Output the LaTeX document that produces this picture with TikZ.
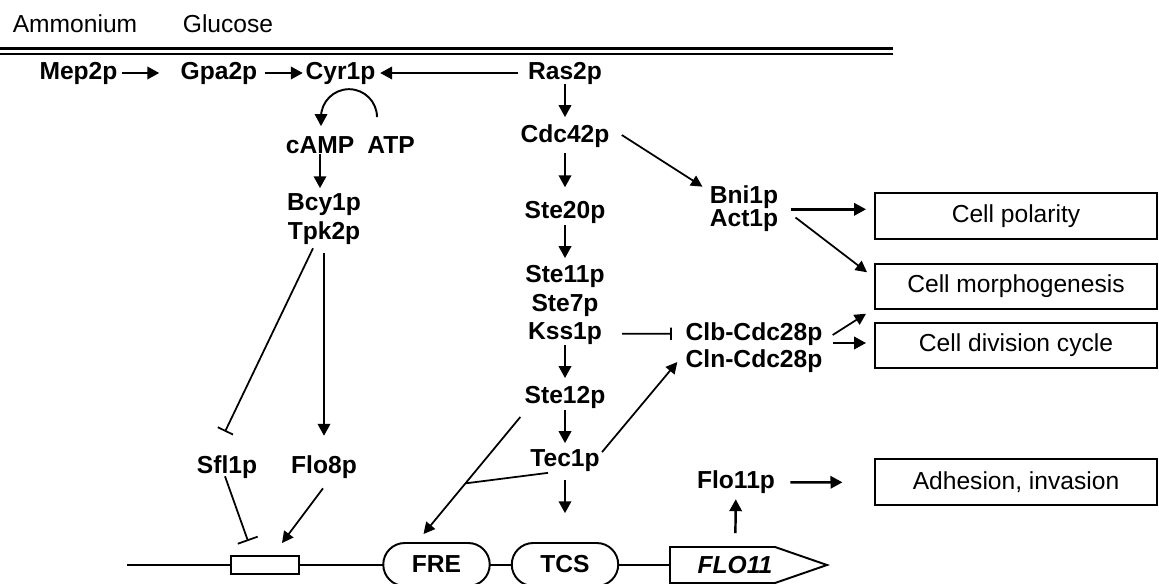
\documentclass[tikz,border=0pt]{standalone}
\usepackage{fontspec}
\setmainfont{Liberation Sans}
\usepackage{tikz}
\usetikzlibrary{arrows.meta,positioning,calc}
\tikzset{
  prot/.style={inner sep=0pt,font=\fontsize{14pt}{16pt}\selectfont\bfseries},
  regtext/.style={inner sep=0pt,font=\fontsize{14pt}{16pt}\selectfont},
  outcome/.style={draw,line width=1.1pt,minimum width=5.64cm,minimum height=0.91cm,
                  inner sep=0pt,font=\fontsize{14pt}{16pt}\selectfont},
  element/.style={draw,fill=white,line width=1.1pt,rounded corners=0.43cm,
                  minimum width=2.13cm,minimum height=0.86cm,inner sep=0pt,
                  font=\fontsize{14pt}{16pt}\selectfont\bfseries},
  actarr/.style={-{Triangle[length=6.8pt,width=7pt]},line width=1.4pt},
  thinarr/.style={-{Triangle[length=6.5pt,width=6.5pt]},line width=1pt},
  inhib/.style={-{Bar[width=#1]},line width=1pt},
  inhib/.default=10pt,
  dnaline/.style={line width=1.1pt}
}

\begin{document}
\begin{tikzpicture}[x=0.02cm,y=-0.02cm]
    \useasboundingbox (0,0) rectangle (1159,584);
    % membrane and signals
    \node[regtext] (amm) at (75,23.5) {Ammonium};
    \node[regtext] (glu) at (228,23.5) {Glucose};
    \coordinate (memleft) at (0,48.5);
    \coordinate (memright) at (893,48.5);
    \draw[line width=1.5pt] (memleft) -- (memright);
    \draw[line width=1.5pt] ($(memleft)+(0,5.5)$) -- ($(memright)+(0,5.5)$);

    % cAMP branch
    \node[prot] (mep) at (78.5,73) {Mep2p};
    \node[prot] (gpa) at (219,73) {Gpa2p};
    \node[prot] (cyr) at (340.5,73) {Cyr1p};
    \node[prot] (ras) at (565,73) {Ras2p};
    \node[prot] (camp) at (320,145) {cAMP};
    \node[prot] (atp) at (391,145) {ATP};
    \node[prot] (bcy) at (324,204.5) {Bcy1p};
    \node[prot] (tpk) at (324,233.5) {Tpk2p};
    \node[prot] (sfl) at (227,467.5) {Sfl1p};
    \node[prot] (flo8) at (324,467.5) {Flo8p};
    \draw[actarr,shorten <=2.5pt,shorten >=12pt] (mep) -- (gpa);
    \draw[actarr,shorten <=4pt,shorten >=1.4pt] (gpa) -- (cyr);
    \draw[actarr,shorten <=5.7pt,shorten >=2.5pt] (ras) -- (cyr);
    \draw[actarr,line width=1.1pt] ($(atp.north)+(-14,-19)$)
      arc[start angle=0,end angle=180,radius=0.56cm] -- ++(0,9);
    \draw[actarr,shorten >=2.8pt] (camp) -- ($(camp.south)!1!(camp.south |- bcy.north)$);
    \draw[actarr,shorten <=4.5pt,shorten >=11.3pt] (tpk) -- (flo8);
    \draw[inhib=9.6pt] ($(tpk.south)+(-11,3)$) -- ($(sfl.north)+(-2,-24)$);

    % MAPK branch
    \node[prot] (cdc42) at (565,136) {Cdc42p};
    \node[prot] (ste20) at (565,212) {Ste20p};
    \node[prot] (ste11) at (565,276) {Ste11p};
    \node[prot] (ste7) at (565,305) {Ste7p};
    \node[prot] (kss) at (565,333.5) {Kss1p};
    \node[prot] (ste12) at (565,397.5) {Ste12p};
    \node[prot] (tec) at (565,460.5) {Tec1p};
    \node[prot] (bni) at (744,197.5) {Bni1p};
    \node[prot] (act) at (744,220.5) {Act1p};
    \node[prot] (clb) at (754,334) {Clb-Cdc28p};
    \node[prot] (cln) at (754,361) {Cln-Cdc28p};
    \node[prot] (flo11p) at (736,482.5) {Flo11p};
    \draw[actarr,shorten >=4pt] (ras) -- (cdc42);
    \draw[actarr,shorten <=3pt,shorten >=7.5pt] (cdc42) -- (ste20);
    \draw[actarr,shorten <=1pt,shorten >=3.6pt] (ste20) -- (ste11);
    \draw[actarr,shorten >=4.5pt] (kss) -- (ste12);
    \draw[actarr,shorten <=0.5pt,shorten >=3.4pt] (ste12) -- (tec);
    \draw[inhib=7pt,shorten <=11.3pt,shorten >=7.7pt] (kss) -- (clb);
    \draw[thinarr] ($(cdc42.east)+(12,-1)$) -- ($(bni.north west)+(-7,1)$);
    \draw[thinarr] ($(tec.north east)+(2,3)$) -- ($(cln.west)+(-8,1)$);

    % outcomes
    \node[outcome] (pol) at (1016,216) {Cell polarity};
    \node[outcome] (morph) at (1016,286.5) {Cell morphogenesis};
    \node[outcome] (div) at (1016,345.5) {Cell division cycle};
    \node[outcome] (adh) at (1016,482) {Adhesion, invasion};
    \draw[actarr] ($(bni.south east)+(12,0)$) -- ($(pol.west |- bni.south east)+(-8,0)$);
    \draw[thinarr] ($(act.east)+(17,-3)$) -- ($(morph.north west)+(-7,9.5)$);
    \draw[thinarr] ($(clb.east)+(10,1)$) -- ($(morph.south west)+(-8,3.5)$);
    \draw[actarr] ($(clb.east |- div.west)+(10,-2.5)$) -- ($(div.west)+(-8,-2.5)$);
    \draw[actarr,shorten <=8.5pt,shorten >=18pt] (flo11p) -- (adh);

    % FLO11 promoter
    \coordinate (dnastart) at (127,565);
    \coordinate (geneend) at (670,565);
    \draw[dnaline] (dnastart) -- (geneend);
    \node[draw,fill=white,line width=1.1pt,minimum width=1.36cm,minimum height=0.36cm,
          inner sep=0pt] (uas) at (265,565) {};
    \node[element] (fre) at (436.5,564.5) {FRE};
    \node[element] (tcs) at (565,564.5) {TCS};
    \draw[dnaline,fill=white] (geneend) |- (775,547) -- (827,565) -- (775,583) -| cycle;
    \node[prot,font=\fontsize{14pt}{16pt}\selectfont\bfseries\itshape] (flo11) at (735,565) {FLO11};
    \draw[actarr,shorten <=13pt,shorten >=2.8pt] (flo11) -- (flo11p);
    \draw[actarr,shorten <=4.5pt,shorten >=16.4pt] (tec) -- (tcs);
    \draw[thinarr] ($(ste12.south west)+(-4,8)$) -- coordinate[pos=0.567] (join)
      ($(fre.north)+(-13,-8)$);
    \draw[line width=1pt] ($(tec.south west)+(18,1)$) -- (join);
    \draw[inhib=12pt] ($(sfl.south)+(-2,-3)$) -- ($(uas.north)+(-17,-14)$);
    \draw[thinarr] ($(flo8.south)+(-1,9)$) -- ($(uas.north)+(17,-12)$);
\end{tikzpicture}
\end{document}
